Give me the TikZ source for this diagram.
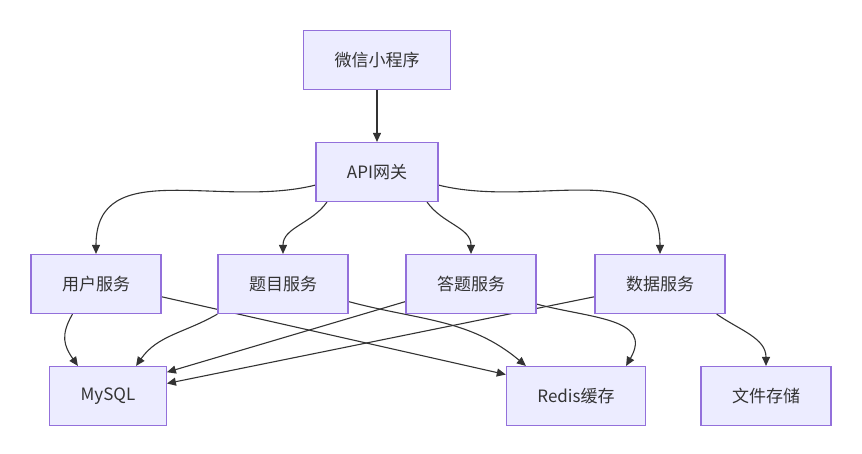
\documentclass[tikz,border=0pt]{standalone}
\usepackage{fontspec}
\newfontfamily\cjk{Noto Sans CJK SC}
\usepackage{tikz}
\usetikzlibrary{arrows.meta, backgrounds}
\definecolor{mmfill}{HTML}{ECECFF}
\definecolor{mmborder}{HTML}{9370DB}
\definecolor{mmline}{HTML}{333333}
\tikzset{
    svc/.style={draw=mmborder, fill=mmfill, line width=1.2pt, minimum height=59pt,
        inner xsep=31pt, text=mmline, font=\cjk\fontsize{17}{20}\selectfont},
    link/.style={draw=mmline, line width=1.1pt, -{Triangle[length=9pt, width=8pt]}}
}
\begin{document}
\begin{tikzpicture}[x=1pt, y=-1pt]
    \useasboundingbox (0,0) rectangle (862,453);

    \node[svc] (app) at (377,60) {微信小程序};
    \node[svc] (gw) at (377,172) {API网关};

    \node[svc] (user) at (96,284) {用户服务};
    \node[svc] (quiz) at (283,284) {题目服务};
    \node[svc] (answer) at (471,284) {答题服务};
    \node[svc] (data) at (660,284) {数据服务};

    \node[svc] (mysql) at (108,396) {MySQL};
    \node[svc] (redis) at (576,396) {Redis缓存};
    \node[svc] (files) at (766,396) {文件存储};

    % links go under the boxes
    \begin{scope}[on background layer]
    \draw[link] (app) -- (gw);

    % gateway to the four services
    \draw[link] (gw.192) to[out=194, in=90, looseness=1.1] (user.north);
    \draw[link] (gw.211) to[out=235, in=90] (quiz.north);
    \draw[link] (gw.329) to[out=-55, in=90] (answer.north);
    \draw[link] (gw.348) to[out=-14, in=90, looseness=1.1] (data.north);

    % services to storage
    \draw[link] (user.232) to[out=240, in=125, looseness=1.2] (mysql.135);
    \draw[link] (user.349) -- (redis.163);
    \draw[link] (quiz.south west) to[out=210, in=55] (mysql.47);
    \draw[link] (quiz.345) to[out=-15, in=140] (redis.149);
    \draw[link] (answer.195) -- (mysql.22);
    \draw[link] (answer.343) to[out=-15, in=60, looseness=1.3] (redis.31);
    \draw[link] (data.191) -- (mysql.12);
    \draw[link] (data.332) to[out=-35, in=90] (files.north);
    \end{scope}
\end{tikzpicture}
\end{document}
